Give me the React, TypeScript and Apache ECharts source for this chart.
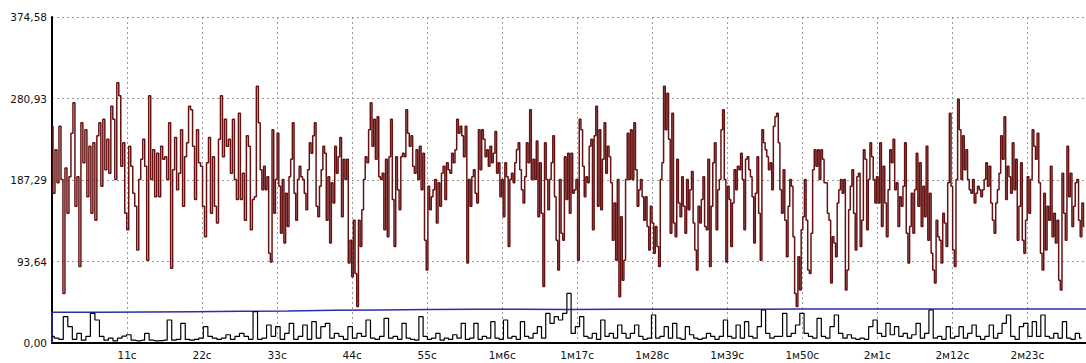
import React, { useEffect, useRef } from "react";
import * as echarts from "echarts";

// y-axis tick labels (value = index * 93.645)
const yTickLabels = ["0,00", "93,64", "187,29", "280,93", "374,58"];
const yStep = 93.645;
const yMax = 374.58;

// x-axis tick labels every 11 s
const xTickLabels = ["11с", "22с", "33с", "44с", "55с", "1м6с", "1м17с", "1м28с", "1м39с", "1м50с", "2м1с", "2м12с", "2м23с"];
const xStep = 11;
const xMax = 151.6;

// dark red series, read in five time windows (seconds)
const redWindows = [0, 30.4, 60.7, 91.0, 121.0, 151.6];
const red1 = [249,172,222,184,249,188,57,201,149,191,241,276,157,191,88,253,207,245,168,226,149,230,141,238,253,180,257,199,234,195,272,257,188,299,284,203,230,149,130,226,203,172,157,107,188,211,234,203,95,284,188,222,168,218,168,226,211,214,188,253,86,199,236,176,195,245,157,214,230,272,268,226,165,245,207,203,157,122,207,236,149,214,157,138,234,284,214,257,226,234,195,257,188,165,264,165,195,141,238,226,130,165,168,295];
const red2 = [253,199,176,203,176,191,103,93,245,149,188,241,180,126,188,115,172,134,191,211,253,172,141,188,203,191,188,172,153,199,230,218,238,253,157,145,180,199,226,218,141,191,115,184,161,226,195,214,236,145,211,188,211,92,118,76,141,80,42,141,111,153,188,214,207,245,276,226,257,211,260,191,188,195,130,211,122,214,257,165,111,214,176,153,214,218,214,268,241,226,238,203,195,222,188,226,176,218,118,84,180,153,168,176,188,138,184,157,195,203,165,207,199,195,218,207,222,257,241,249,238,214];
const red3 = [249,92,188,157,191,199,172,161,245,199,245,234,214,222,203,226,207,218,243,195,207,168,188,145,207,191,111,188,195,184,207,222,230,199,176,161,191,230,207,268,188,211,188,232,145,207,149,65,230,188,153,188,207,238,168,118,84,188,126,118,214,165,218,149,218,172,176,188,95,257,245,203,168,191,184,226,234,130,238,272,157,245,153,211,253,195,226,214,184,118,161,95,188,53,145,72,95,188,241,188,245,188,253,199,157,176,188,168,141,168,134,107,157,138,103,134,111,88,188,207,295,245,287,234,126];
const red4 = [264,138,122,211,161,145,191,157,126,188,153,176,197,138,107,84,157,138,165,191,134,130,211,88,157,207,230,130,176,188,245,268,188,93,180,165,111,161,199,176,203,199,218,188,130,211,214,199,191,168,115,172,214,149,95,245,230,222,214,199,207,176,249,260,264,230,176,149,199,141,99,157,188,180,122,57,42,99,61,130,145,188,141,84,80,126,199,222,203,222,188,222,211,184,184,149,141,69,122,115,99,161,176,188,172,188,61,84,153,180,199,149,107,191,195,111,141,222,211,130,188,230,214,188,161];
const red5 = [191,161,230,134,203,161,122,176,222,207,234,176,184,134,168,157,180,230,126,92,134,172,126,176,218,157,207,134,180,145,226,118,172,103,84,69,141,122,118,92,149,138,111,184,264,180,107,88,188,280,245,188,238,199,222,188,176,172,188,161,172,180,176,168,176,188,207,180,203,161,141,126,161,176,195,238,211,260,165,203,191,172,230,176,211,118,157,207,118,103,141,191,149,188,245,226,211,241,184,103,84,172,107,157,141,203,122,149,115,141,72,61,195,149,118,226,168,195,134,157,184,188,141,122,161,134];

// black series, read in three time windows
const blackWindows = [0, 51.0, 106.8, 151.6];
const black1 = [7.5,5.5,4.2,30.3,18.8,4.2,11,3.2,7.5,34.1,26.4,7.5,3.2,5.5,2.5,5.5,8,9.5,3.2,2.5,3.2,11,3.2,2.5,2.8,3.2,26.4,3.2,4.2,22.6,4.2,3.2,4.2,5.5,18.8,7.5,5.5,4.2,5.5,9.5,4.2,7.5,11,7.5,4.2,36,4.2,5.5,20.7,7.5,18.8,4.2,11,22.6,4.2,7.5,20.7,4.2,24.5,5.5,18.8,22.6,5.5,11,7.5,4.2,18.8,5.5,11,7.5,26.4,5.5,4.2,7.5,28.3,5.5,7.5];
const black2 = [4.2,22.6,5.5,4.2,3.2,30.3,7.5,4.2,5.5,11,3.2,5.5,4.2,9.5,5.5,22.6,4.2,5.5,22.6,4.2,7.5,5.5,24.5,5.5,4.2,26.4,5.5,7.5,4.2,24.5,7.5,5.5,11,18.8,5.5,34.1,22.6,30.3,26.4,34.1,57,11,18.8,30.3,7.5,5.5,11,4.2,26.4,7.5,11,5.5,20.7,11,5.5,11,20.7,7.5,4.2,5.5,32.2,5.5,7.5,18.8,5.5,22.6,5.5,4.2,18.8,9.5,5.5,4.2,5.5,11,7.5,4.2,7.5,26.4,7.5,5.5,20.7,5.5,24.5,7.5,5.5,18.8,37.9,11,5.5,7.5];
const black3 = [7.5,34.1,7.5,11,20.7,34.1,11,7.5,5.5,28.3,7.5,5.5,18.8,32.2,11,5.5,9.5,5.5,4.2,5.5,4.2,18.8,26.4,11,7.5,22.6,9.5,18.8,7.5,11,5.5,9.5,22.6,5.5,11,37.9,5.5,7.5,4.2,18.8,5.5,7.5,18.8,5.5,11,20.7,7.5,4.2,7.5,20.7,5.5,11,22.6,32.2,7.5,4.2,18.8,22.6,7.5,24.5,7.5,32.2,7.5,5.5,11,5.5,24.5,5.5,4.2,11,5.5];

// blue series, evenly spaced over the whole record
const blue = [0,35.0,35.3,35.6,36.0,36.4,36.9,37.5,38.0,38.4,38.7,38.7,38.6,38.8,38.9,38.8,38.9,39.0,39.0,39.1,39.0,39.1,39.1,39.2];

function windowed(windows: number[], segs: number[][]): [number, number][] {
  const out: [number, number][] = [];
  segs.forEach((vals, s) => {
    const a = windows[s];
    const b = windows[s + 1];
    const n = vals.length;
    vals.forEach((v, i) => out.push([a + ((b - a) * i) / n, v]));
  });
  return out;
}

export default function App() {
  const ref = useRef<HTMLDivElement>(null);
  useEffect(() => {
    if (!ref.current) return;
    const chart = echarts.init(ref.current, undefined, { renderer: "svg" });
    const redData = windowed(redWindows, [red1, red2, red3, red4, red5]);
    const blackData = windowed(blackWindows, [black1, black2, black3]);
    const blueData: [number, number][] = blue.map((v, i) => [i === 0 ? 0 : 0.1 + ((xMax - 0.1) * (i - 1)) / (blue.length - 2), v]);
    const font = { fontFamily: "DejaVu Sans", fontSize: 10.5, color: "#111" };
    chart.setOption({
      animation: false,
      backgroundColor: "#fff",
      grid: { left: 52, right: 0, top: 17, bottom: 20, containLabel: false },
      xAxis: {
        type: "value",
        min: 0,
        max: xMax,
        interval: xStep,
        axisLine: { show: true, lineStyle: { color: "#000", width: 2 } },
        axisTick: { show: false },
        axisLabel: {
          ...font,
          margin: 6,
          showMinLabel: false,
          showMaxLabel: false,
          formatter: (v: number) => {
            const idx = Math.round(v / xStep) - 1;
            return idx >= 0 && idx < xTickLabels.length ? xTickLabels[idx] : "";
          },
        },
        splitLine: { show: true, lineStyle: { color: "#999", type: [2, 3], width: 1 } },
      },
      yAxis: {
        type: "value",
        min: 0,
        max: yMax,
        interval: yStep,
        axisLine: { show: true, lineStyle: { color: "#000", width: 2 } },
        axisTick: { show: false },
        axisLabel: {
          ...font,
          margin: 5,
          formatter: (v: number) => {
            const idx = Math.round(v / yStep);
            return yTickLabels[idx] ?? "";
          },
        },
        splitLine: { show: true, lineStyle: { color: "#999", type: [2, 3], width: 1 } },
      },
      series: [
        {
          type: "line",
          data: blueData,
          step: "start",
          showSymbol: false,
          lineStyle: { color: "#2b2fa6", width: 1.5 },
        },
        {
          type: "line",
          data: blackData,
          step: "middle",
          showSymbol: false,
          lineStyle: { color: "#000", width: 1.2 },
        },
        {
          type: "line",
          data: redData,
          step: "middle",
          showSymbol: false,
          lineStyle: { color: "#661212", width: 1.5 },
        },
      ],
    });
    return () => chart.dispose();
  }, []);
  return (
    <div
      ref={ref}
      style={{ position: "fixed", left: 0, top: 0, width: 1086, height: 363, background: "#fff" }}
    />
  );
}
